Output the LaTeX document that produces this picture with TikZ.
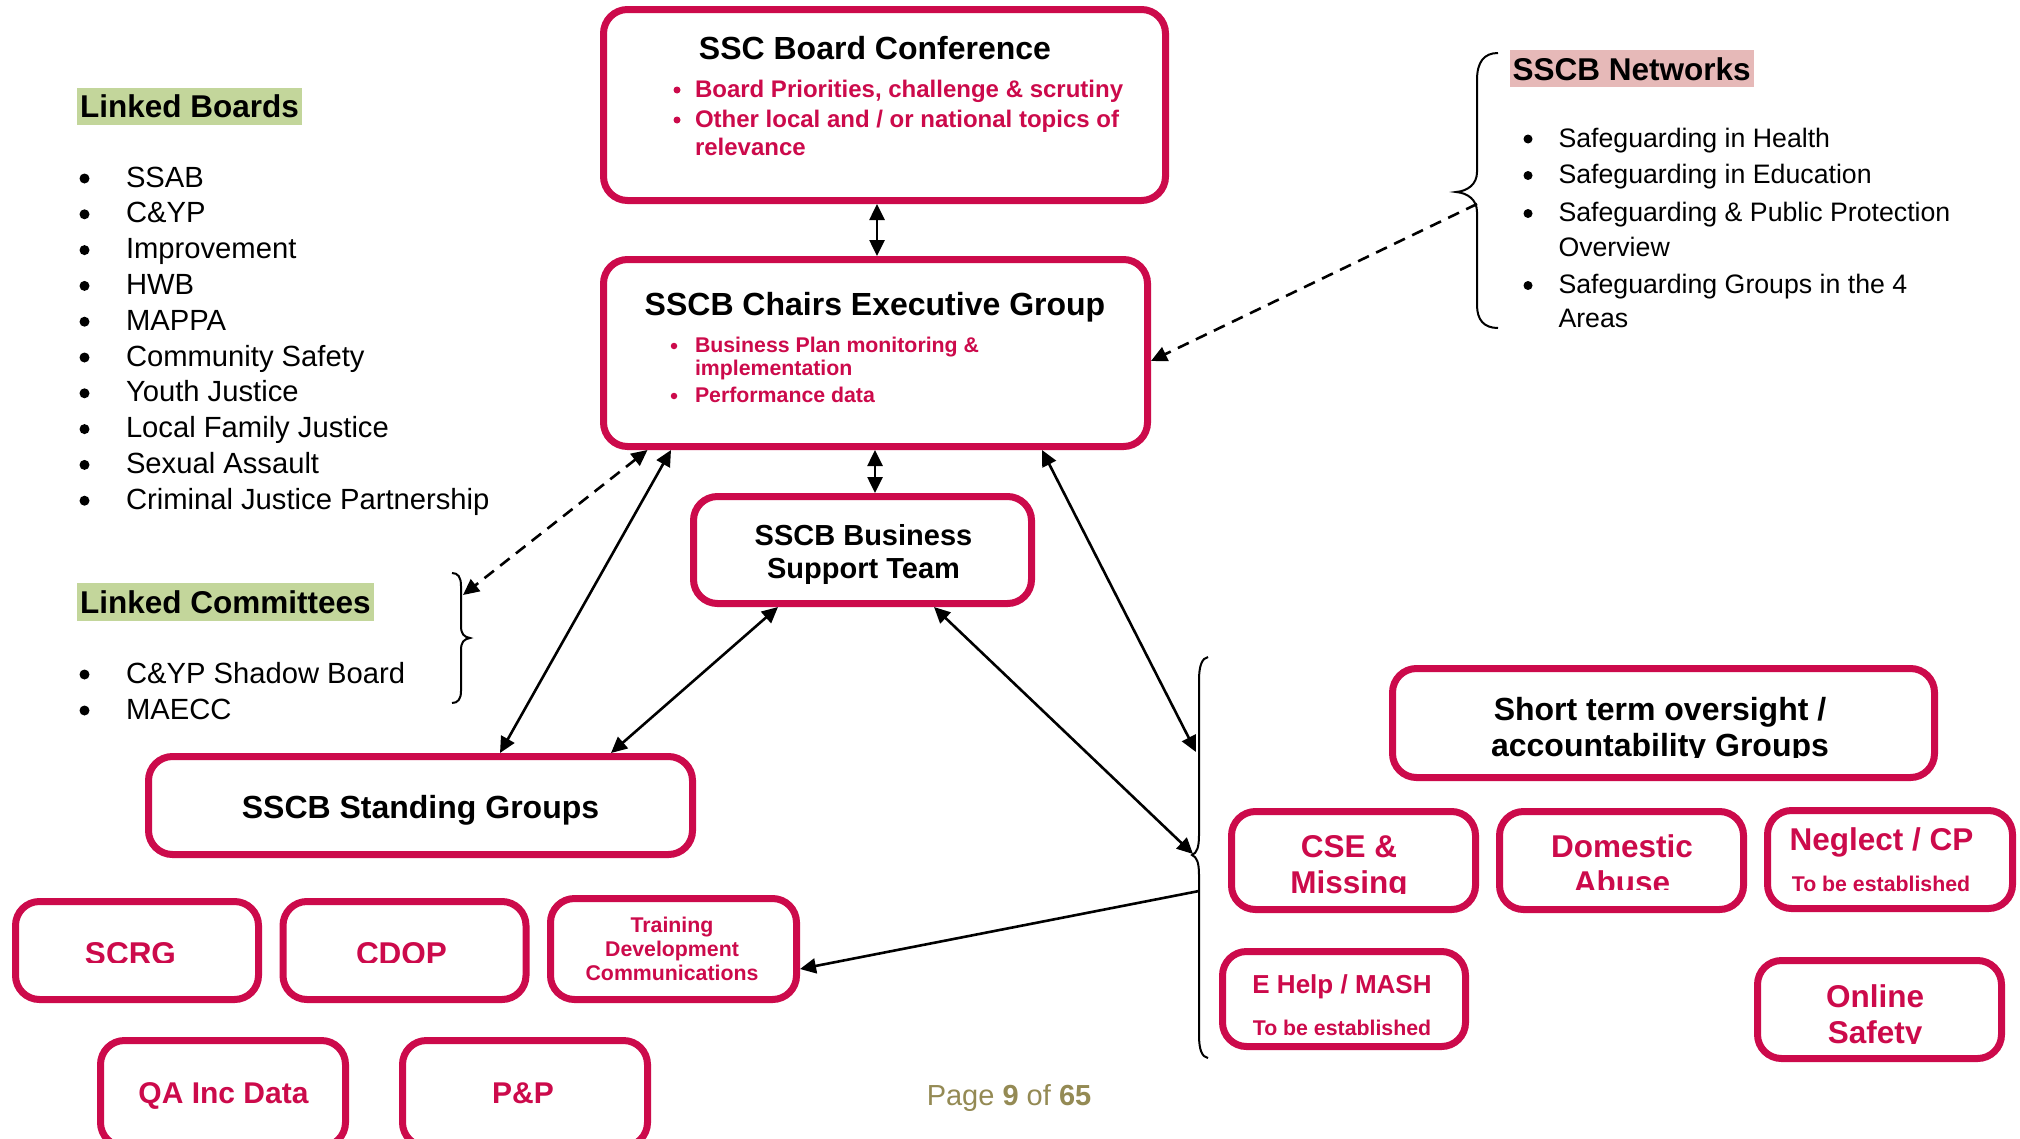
\documentclass[tikz,border=0pt]{standalone}
\usepackage{fontspec}
\setmainfont{Liberation Sans}
\usetikzlibrary{arrows.meta}
\definecolor{crim}{HTML}{CC0A4B}
\definecolor{hlgreen}{HTML}{C3D69B}
\definecolor{hlpink}{HTML}{E6B9B8}
\definecolor{pageolive}{HTML}{948A54}
\tikzset{
  box/.style={draw=crim, line width=7pt, rounded corners=24pt, inner sep=0pt, outer sep=3.5pt},
  tb/.style={inner sep=0pt, outer sep=0pt, anchor=base},
  tbw/.style={inner sep=0pt, outer sep=0pt, anchor=base west},
  blackhead/.style={font=\fontsize{32}{38}\selectfont\bfseries},
  bsthead/.style={font=\fontsize{29}{35}\selectfont\bfseries},
  redhead/.style={text=crim, font=\fontsize{31.5}{38}\selectfont\bfseries},
  redmid/.style={text=crim, font=\fontsize{26}{31}\selectfont\bfseries},
  redqa/.style={text=crim, font=\fontsize{30}{36}\selectfont\bfseries},
  redsmall/.style={text=crim, font=\fontsize{21.3}{26}\selectfont\bfseries},
  redboard/.style={text=crim, font=\fontsize{24}{29}\selectfont\bfseries},
  dot/.style={circle, fill=#1, inner sep=0pt, outer sep=0pt},
  conn/.style={line width=2.6pt, <->},
  dconn/.style={line width=2.6pt, dash pattern=on 12pt off 8pt},
  bracepath/.style={line width=2pt},
  hl/.style={inner xsep=3pt, inner ysep=0pt, anchor=base west, font=\fontsize{31.5}{38}\selectfont\bfseries},
  listtxt/.style={tbw, font=\fontsize{29.2}{35}\selectfont},
  nettxt/.style={tbw, font=\fontsize{26.7}{33}\selectfont},
}
\begin{document}
\begin{tikzpicture}[x=1pt,y=-1pt,>={Triangle[length=16pt,width=15pt]}]
\useasboundingbox (0,0) rectangle (2020,1138);
\clip (0,0) rectangle (2020,1138);
\fill[white] (0,0) rectangle (2020,1138);

% ---------- boxes ----------
\node[box, minimum width=562pt, minimum height=191pt] (board) at (884.5,105) {};
\node[box, minimum width=544pt, minimum height=187pt] (chairs) at (875.5,353) {};
\node[box, minimum width=338pt, minimum height=107pt] (bst) at (862.5,550) {};
\node[box, minimum width=544pt, minimum height=98pt] (standing) at (420.5,805.5) {};
\node[box, minimum width=243pt, minimum height=98pt] (scrg) at (137,950.5) {};
\node[box, minimum width=243pt, minimum height=98pt] (cdop) at (404.5,950.5) {};
\node[box, minimum width=246pt, minimum height=101pt] (train) at (673.5,949) {};
\node[box, minimum width=245pt, minimum height=106pt] (qa) at (223,1093.5) {};
\node[box, minimum width=245pt, minimum height=106pt] (pp) at (525,1093.5) {};
\node[box, minimum width=542pt, minimum height=109pt] (short) at (1663.5,723) {};
\node[box, minimum width=244pt, minimum height=98pt] (cse) at (1353.5,860.5) {};
\node[box, minimum width=244pt, minimum height=98pt] (dom) at (1621.5,860.5) {};
\node[box, minimum width=245pt, minimum height=98pt] (neg) at (1890,859.5) {};
\node[box, minimum width=243pt, minimum height=95pt] (ehelp) at (1344,999) {};
\node[box, minimum width=244pt, minimum height=98pt] (online) at (1879.5,1009.5) {};

% ---------- box texts ----------
\node[tb, blackhead] (boardt) at (875,59) {SSC Board Conference};
\node[dot=crim, minimum size=7pt] (boardb1) at (677,90) {};
\node[tbw, redboard] (boardi1) at (695,97) {Board Priorities, challenge \& scrutiny};
\node[dot=crim, minimum size=7pt] (boardb2) at (677,120) {};
\node[tbw, redboard] (boardi2) at (695,127) {Other local and / or national topics of};
\node[tbw, redboard] (boardi3) at (695,155) {relevance};

\node[tb, blackhead] (chairst) at (875,315) {SSCB Chairs Executive Group};
\node[dot=crim, minimum size=6.5pt] (chairsb1) at (674,346) {};
\node[tbw, redsmall] (chairsi1) at (695,352) {Business Plan monitoring \&};
\node[tbw, redsmall] (chairsi2) at (695,375) {implementation};
\node[dot=crim, minimum size=6.5pt] (chairsb2) at (674,396) {};
\node[tbw, redsmall] (chairsi3) at (695,402) {Performance data};

\node[tb, bsthead] (bstt1) at (863.5,545) {SSCB Business};
\node[tb, bsthead] (bstt2) at (863.5,578) {Support Team};

\node[tb, blackhead] (standingt) at (420.5,818) {SSCB Standing Groups};

\begin{scope}
\clip (0,890) rectangle (560,962);
\node[tb, redhead] (scrgt) at (130.5,964) {SCRG};
\node[tb, redhead] (cdopt) at (401.5,964) {CDOP};
\end{scope}
\node[tb, redsmall] (traint1) at (672,932.5) {Training};
\node[tb, redsmall] (traint2) at (672,956.5) {Development};
\node[tb, redsmall] (traint3) at (672,980) {Communications};
\node[tb, redqa] (qat) at (223.5,1103.5) {QA Inc Data};
\node[tb, redqa] (ppt) at (523,1103.5) {P\&P};

\begin{scope}
\clip (1380,655) rectangle (1945,757);
\node[tb, blackhead] (shortt1) at (1660,720) {Short term oversight /};
\node[tb, blackhead] (shortt2) at (1660,756) {accountability Groups};
\end{scope}
\begin{scope}
\clip (1220,800) rectangle (1485,893.5);
\node[tb, redhead] (cset1) at (1349,857) {CSE \&};
\node[tb, redhead] (cset2) at (1349,893) {Missing};
\end{scope}
\begin{scope}
\clip (1490,800) rectangle (1755,889.5);
\node[tb, redhead] (domt1) at (1622,857) {Domestic};
\node[tb, redhead] (domt2) at (1622,893) {Abuse};
\end{scope}
\node[tb, redhead] (negt1) at (1881.5,850) {Neglect / CP};
\node[tb, redsmall] (negt2) at (1881,891.5) {To be established};
\node[tb, redmid] (ehelpt1) at (1342,993) {E Help / MASH};
\node[tb, redsmall] (ehelpt2) at (1342,1035) {To be established};
\begin{scope}
\clip (1745,950) rectangle (2015,1043.5);
\node[tb, redhead] (onlinet1) at (1875,1007) {Online};
\node[tb, redhead] (onlinet2) at (1875,1043) {Safety};
\end{scope}

% ---------- left lists ----------
\node[hl, fill=hlgreen, text height=29pt, text depth=8pt] (lbh) at (77,117) {Linked Boards};
\foreach \t [count=\i] in {SSAB, C\&YP, Improvement, HWB, MAPPA, Community Safety, Youth Justice, Local Family Justice, Sexual Assault, Criminal Justice Partnership} {
  \node[dot=black, minimum size=10pt] (lbb\i) at (84.5,{178.5+35.8*(\i-1)}) {};
  \node[listtxt] (lbt\i) at (126,{187+35.8*(\i-1)}) {\t};
}
\node[hl, fill=hlgreen, text height=30pt, text depth=8pt] (lch) at (77,613) {Linked Committees};
\node[dot=black, minimum size=10pt] (lcb1) at (84.5,674.5) {};
\node[listtxt] (lct1) at (126,683) {C\&YP Shadow Board};
\node[dot=black, minimum size=10pt] (lcb2) at (84.5,710.5) {};
\node[listtxt] (lct2) at (126,719) {MAECC};

% ---------- networks ----------
\node[hl, fill=hlpink, text height=30pt, text depth=6.7pt] (neth) at (1509.5,80) {SSCB Networks};
\node[dot=black, minimum size=9pt] (netb1) at (1528,139) {};
\node[nettxt] (nett1) at (1558.5,147) {Safeguarding in Health};
\node[dot=black, minimum size=9pt] (netb2) at (1528,175.5) {};
\node[nettxt] (nett2) at (1558.5,183.5) {Safeguarding in Education};
\node[dot=black, minimum size=9pt] (netb3) at (1528,213.5) {};
\node[nettxt] (nett3) at (1558.5,221.5) {Safeguarding \& Public Protection};
\node[nettxt] (nett3b) at (1558.5,256) {Overview};
\node[dot=black, minimum size=9pt] (netb4) at (1528,285.5) {};
\node[nettxt] (nett4) at (1558.5,293.5) {Safeguarding Groups in the 4};
\node[nettxt] (nett4b) at (1558.5,327.5) {Areas};

% ---------- braces ----------
\draw[bracepath] (1498,53) .. controls (1484,53) and (1477,62) .. (1477,80) -- (1477,172)
  .. controls (1477,184) and (1468,191) .. (1456,192)
  .. controls (1468,193) and (1477,200) .. (1477,212) -- (1477,305)
  .. controls (1477,320) and (1484,328) .. (1498,328);
\draw[bracepath] (452,573) .. controls (458,573) and (461,577) .. (461,586) -- (461,626)
  .. controls (461,634) and (464,637) .. (470,638)
  .. controls (464,639) and (461,642) .. (461,650) -- (461,691)
  .. controls (461,699) and (458,703) .. (452,703);
\draw[bracepath] (1208,657) .. controls (1202,658) and (1199,666) .. (1199,680) -- (1199,835)
  .. controls (1199,847) and (1197,853) .. (1192,855)
  .. controls (1197,857) and (1199,863) .. (1199,875) -- (1199,1035)
  .. controls (1199,1050) and (1202,1057) .. (1208,1058);

\coordinate (nettip) at (1477,204);
\coordinate (cbr) at (463,595);
\coordinate (bbup) at (1196,752);
\coordinate (bbtip) at (1193,854);
\coordinate (bblow) at (1199,891);

% ---------- connectors ----------
\draw[conn] ([xshift=-7.5pt]board.south) -- ([xshift=1.5pt]chairs.north);
\draw[conn] ([xshift=-0.5pt]chairs.south) -- ([xshift=12.5pt]bst.north);
\draw[dconn, ->] (nettip) -- ([yshift=-8pt]chairs.east);
\draw[dconn, <->] ([xshift=-228pt]chairs.south) -- (cbr);
\draw[conn] ([xshift=-204.5pt]chairs.south) -- ([xshift=79.5pt]standing.north);
\draw[conn] ([xshift=-84.5pt]bst.south) -- ([xshift=190.5pt]standing.north);
\draw[conn] ([xshift=166.5pt]chairs.south) -- (bbup);
\draw[conn] ([xshift=71.5pt]bst.south) -- (bbtip);
\draw[line width=2.6pt, ->] (bblow) -- ([yshift=-20pt]train.east);

% ---------- page ----------
\node[tb, text=pageolive, font=\fontsize{29}{35}\selectfont] (page) at (1009,1105) {Page \textbf{9} of \textbf{65}};
\end{tikzpicture}
\end{document}
